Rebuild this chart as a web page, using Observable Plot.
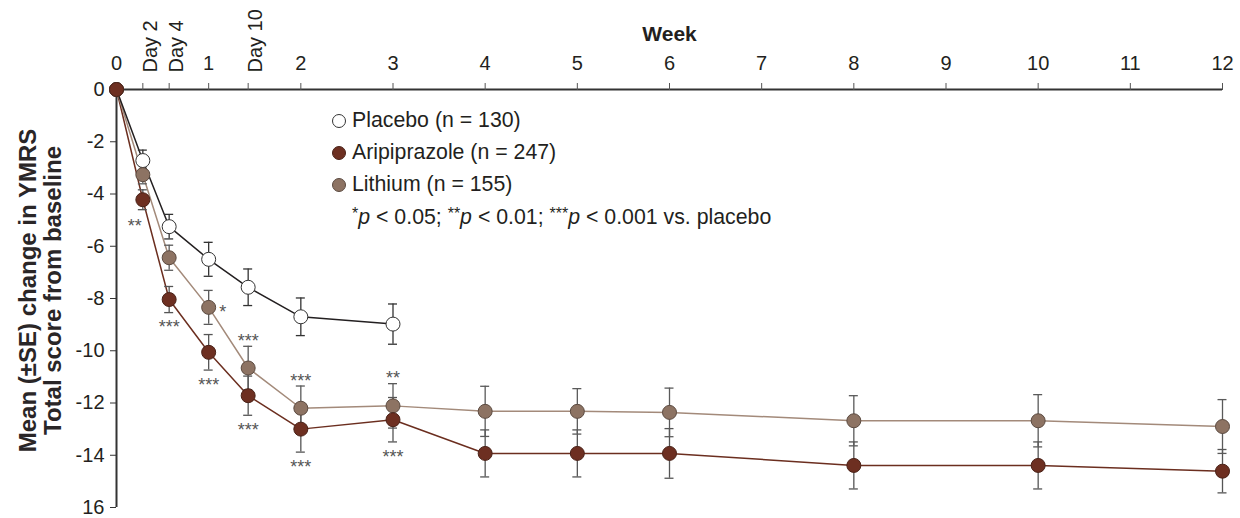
<!DOCTYPE html>
<html><head><meta charset="utf-8">
<script src="https://cdn.jsdelivr.net/npm/d3@7"></script>
<script src="https://cdn.jsdelivr.net/npm/@observablehq/plot@0.6"></script>
<style>
body{margin:0;background:#fff;font-family:"Liberation Sans",Arial,sans-serif;}
#wrap{position:relative;width:1240px;height:518px;overflow:hidden;}
#legend{position:absolute;left:332px;top:105px;font-size:21.3px;color:#231f20;line-height:1;}
.row{height:32px;display:flex;align-items:center;white-space:nowrap;}
.sw{width:14px;height:14px;border-radius:50%;box-sizing:border-box;border:1px solid #333;margin-right:6px;flex:none;}
.note{padding-left:20px;}
.note sup{font-size:16px;vertical-align:5px;}
</style></head><body><div id="wrap"></div>
<script>
// Study days of each visit (x positions), axis ticks and labels
const days = [0, 2, 4, 7, 10, 14, 21, 28, 35, 42, 56, 70, 84];
const weekTicks = [0, 7, 14, 21, 28, 35, 42, 49, 56, 63, 70, 77, 84];
const weekLabels = ["0","1","2","3","4","5","6","7","8","9","10","11","12"];
const dayTicks = [2, 4, 10];
const dayLabels = ["Day 2", "Day 4", "Day 10"];
const yTicks = [0, -2, -4, -6, -8, -10, -12, -14, -16];
const yLabels = ["0", "-2", "-4", "-6", "-8", "-10", "-12", "-14", "16"];

// Mean change and SE per series
const placeboMean = [0, -2.72, -5.25, -6.5, -7.57, -8.7, -8.98];
const placeboSE   = [0, 0.4, 0.47, 0.65, 0.7, 0.72, 0.77];
const aripMean = [0, -4.22, -8.04, -10.06, -11.72, -13.0, -12.64, -13.93, -13.93, -13.93, -14.39, -14.39, -14.61];
const aripSE   = [0, 0.38, 0.5, 0.68, 0.75, 0.88, 0.85, 0.9, 0.9, 0.95, 0.9, 0.9, 0.83];
const lithMean = [0, -3.26, -6.44, -8.34, -10.66, -12.2, -12.11, -12.32, -12.32, -12.36, -12.68, -12.68, -12.9];
const lithSE   = [0, 0.35, 0.48, 0.65, 0.83, 0.85, 0.85, 0.96, 0.87, 0.93, 0.96, 1.0, 1.03];

// Significance annotations
const sigSeries = ["Aripiprazole","Aripiprazole","Lithium","Aripiprazole","Lithium","Aripiprazole","Lithium","Aripiprazole","Lithium","Aripiprazole"];
const sigDay    = [2, 4, 7, 7, 10, 10, 14, 14, 21, 21];
const sigLabel  = ["**","***","*","***","***","***","***","***","**","***"];
const sigSide   = ["below-left","below","right","below","above","below","above","below","above","below"];

const colors = {
  Placebo:      {line:"#231f20", fill:"#ffffff", stroke:"#333333", err:"#333333"},
  Aripiprazole: {line:"#6b2e1f", fill:"#6d2f21", stroke:"#4a2218", err:"#555555"},
  Lithium:      {line:"#a38a7a", fill:"#8d7363", stroke:"#5b4a40", err:"#5a5a5a"}
};

const rows = [];
placeboMean.forEach((m,i)=>rows.push({series:"Placebo", day:days[i], mean:m, se:placeboSE[i]}));
aripMean.forEach((m,i)=>rows.push({series:"Aripiprazole", day:days[i], mean:m, se:aripSE[i]}));
lithMean.forEach((m,i)=>rows.push({series:"Lithium", day:days[i], mean:m, se:lithSE[i]}));

const sig = sigLabel.map((lab,i)=>{
  const r = rows.find(d=>d.series===sigSeries[i] && d.day===sigDay[i]);
  const side = sigSide[i];
  const y = side==="above" ? r.mean + r.se : side==="right" ? r.mean : r.mean - r.se;
  return {label:lab, day:r.day, y, side};
});

const weekMap = new Map(weekTicks.map((t,i)=>[t, weekLabels[i]]));
const dayMap = new Map(dayTicks.map((t,i)=>[t, dayLabels[i]]));
const yMap = new Map(yTicks.map((t,i)=>[t, yLabels[i]]));
const font = '"Liberation Sans", Arial, sans-serif';

const lineMarks = ["Aripiprazole","Lithium","Placebo"].map(s =>
  Plot.line(rows.filter(d=>d.series===s), {x:"day", y:"mean", stroke:colors[s].line, strokeWidth:1.5}));
const errMarks = ["Placebo","Aripiprazole","Lithium"].flatMap(s => {
  const data = rows.filter(d=>d.series===s && d.se>0);
  const c = colors[s].err;
  return [
    Plot.ruleX(data, {x:"day", y1:d=>d.mean-d.se, y2:d=>d.mean+d.se, stroke:c, strokeWidth:1.3}),
    Plot.ruleY(data, {y:d=>d.mean+d.se, x1:"day", x2:"day", insetLeft:-4.5, insetRight:-4.5, stroke:c, strokeWidth:1.3}),
    Plot.ruleY(data, {y:d=>d.mean-d.se, x1:"day", x2:"day", insetLeft:-4.5, insetRight:-4.5, stroke:c, strokeWidth:1.3})
  ];
});
const dotMarks = ["Placebo","Lithium","Aripiprazole"].map(s =>
  Plot.dot(rows.filter(d=>d.series===s), {x:"day", y:"mean", r:7, fill:colors[s].fill, stroke:colors[s].stroke, strokeWidth:1}));

const sideOffsets = {below:{dx:0, dy:15}, above:{dx:0, dy:-5}, right:{dx:14, dy:5}, "below-left":{dx:-8, dy:17}};
const sigMarks = Object.entries(sideOffsets).map(([side,o]) =>
  Plot.text(sig.filter(d=>d.side===side), {x:"day", y:"y", text:"label", dx:o.dx, dy:o.dy, fontSize:18, fill:"#555", textAnchor:"middle", style:"letter-spacing:1px"}));

const chart = Plot.plot({
  width:1240, height:518,
  marginTop:89, marginBottom:11, marginLeft:116, marginRight:18,
  x:{domain:[0,84], axis:null},
  y:{domain:[-16,0], axis:null},
  style:{fontFamily:font, fontSize:"20px", color:"#231f20", background:"#fff", overflow:"visible"},
  marks:[
    Plot.ruleY([0], {x1:0, x2:84, stroke:"#333", strokeWidth:2}),
    Plot.ruleX([0], {y1:0, y2:-16, stroke:"#333", strokeWidth:2}),
    Plot.axisX({anchor:"top", label:null, ticks:weekTicks, tickFormat:d=>weekMap.get(d), tickSize:7, tickPadding:13, fontSize:20, stroke:"#555", fill:"#231f20"}),
    Plot.axisX({anchor:"top", label:null, ticks:dayTicks, tickFormat:()=>"", tickSize:7, stroke:"#555"}),
    Plot.text(dayTicks, {x:d=>d, frameAnchor:"top", text:d=>dayMap.get(d), rotate:-90, textAnchor:"start", dy:-17, fontSize:20, fill:"#231f20"}),
    Plot.axisY({anchor:"left", label:null, ticks:yTicks, tickFormat:d=>yMap.get(d), tickSize:6, tickPadding:6, fontSize:20, stroke:"#333", fill:"#231f20"}),
    Plot.text(["Week"], {frameAnchor:"top", dy:-49, lineAnchor:"bottom", fontSize:21, fontWeight:"bold", fill:"#231f20"}),
    Plot.text(["Mean (±SE) change in YMRS\nTotal score from baseline"], {frameAnchor:"left", textAnchor:"middle", rotate:-90, dx:-76, dy:-8, fontSize:24, fontWeight:"bold", lineHeight:1.05, fill:"#2a2627"}),
    ...lineMarks,
    ...errMarks,
    ...dotMarks,
    ...sigMarks
  ]
});

const wrap = document.getElementById("wrap");
wrap.appendChild(chart);

const legendItems = [
  {name:"Placebo", text:"Placebo (n = 130)"},
  {name:"Aripiprazole", text:"Aripiprazole (n = 247)"},
  {name:"Lithium", text:"Lithium (n = 155)"}
];
const legend = document.createElement("div");
legend.id = "legend";
legend.innerHTML = legendItems.map(it =>
  `<div class="row"><span class="sw" style="background:${colors[it.name].fill};border-color:${colors[it.name].stroke}"></span><span>${it.text}</span></div>`).join("") +
  `<div class="row note"><span><sup>*</sup><i>p</i> &lt; 0.05; <sup>**</sup><i>p</i> &lt; 0.01; <sup>***</sup><i>p</i> &lt; 0.001 vs. placebo</span></div>`;
wrap.appendChild(legend);
</script></body></html>
